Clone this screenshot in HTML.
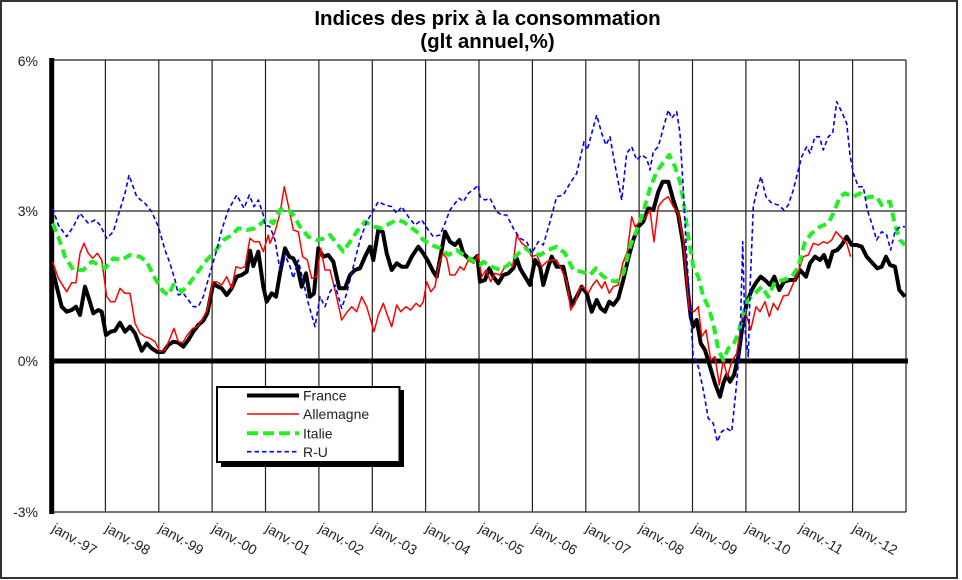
<!DOCTYPE html>
<html><head><meta charset="utf-8"><style>
html,body{margin:0;padding:0;background:#fff;}
svg{display:block;}
text{font-family:"Liberation Sans",Arial,sans-serif;}
</style></head><body>
<svg width="962" height="580" viewBox="0 0 962 580" xmlns="http://www.w3.org/2000/svg">
<rect x="0" y="0" width="962" height="580" fill="#fff"/>
<rect x="1" y="1" width="956" height="577" fill="none" stroke="#333" stroke-width="2"/>
<text x="487.5" y="25" font-size="20.5" font-weight="bold" text-anchor="middle" fill="#000">Indices des prix à la consommation</text>
<text x="487.5" y="48" font-size="20.5" font-weight="bold" text-anchor="middle" fill="#000">(glt annuel,%)</text>
<g stroke="#222" stroke-width="1.2" fill="none">
<line x1="52" y1="60" x2="906" y2="60"/>
<line x1="52" y1="211" x2="906" y2="211"/>
<line x1="52" y1="512" x2="906" y2="512"/>
<line x1="105.4" y1="60" x2="105.4" y2="512"/>
<line x1="158.8" y1="60" x2="158.8" y2="512"/>
<line x1="212.1" y1="60" x2="212.1" y2="512"/>
<line x1="265.5" y1="60" x2="265.5" y2="512"/>
<line x1="318.9" y1="60" x2="318.9" y2="512"/>
<line x1="372.3" y1="60" x2="372.3" y2="512"/>
<line x1="425.6" y1="60" x2="425.6" y2="512"/>
<line x1="479" y1="60" x2="479" y2="512"/>
<line x1="532.4" y1="60" x2="532.4" y2="512"/>
<line x1="585.8" y1="60" x2="585.8" y2="512"/>
<line x1="639.1" y1="60" x2="639.1" y2="512"/>
<line x1="692.5" y1="60" x2="692.5" y2="512"/>
<line x1="745.9" y1="60" x2="745.9" y2="512"/>
<line x1="799.3" y1="60" x2="799.3" y2="512"/>
<line x1="852.6" y1="60" x2="852.6" y2="512"/>
<line x1="906" y1="60" x2="906" y2="512"/>
</g>
<line x1="52" y1="361" x2="908" y2="361" stroke="#000" stroke-width="5"/>
<line x1="51.7" y1="58" x2="51.7" y2="514" stroke="#000" stroke-width="5"/>
<g font-size="14" fill="#222" text-anchor="end">
<text x="38" y="66">6%</text>
<text x="38" y="216">3%</text>
<text x="38" y="366">0%</text>
<text x="38" y="517">-3%</text>
</g>
<g font-size="14" fill="#222">
<text transform="translate(51,531) rotate(30)">janv.-97</text>
<text transform="translate(104.4,531) rotate(30)">janv.-98</text>
<text transform="translate(157.8,531) rotate(30)">janv.-99</text>
<text transform="translate(211.1,531) rotate(30)">janv.-00</text>
<text transform="translate(264.5,531) rotate(30)">janv.-01</text>
<text transform="translate(317.9,531) rotate(30)">janv.-02</text>
<text transform="translate(371.3,531) rotate(30)">janv.-03</text>
<text transform="translate(424.6,531) rotate(30)">janv.-04</text>
<text transform="translate(478,531) rotate(30)">janv.-05</text>
<text transform="translate(531.4,531) rotate(30)">janv.-06</text>
<text transform="translate(584.8,531) rotate(30)">janv.-07</text>
<text transform="translate(638.1,531) rotate(30)">janv.-08</text>
<text transform="translate(691.5,531) rotate(30)">janv.-09</text>
<text transform="translate(744.9,531) rotate(30)">janv.-10</text>
<text transform="translate(798.3,531) rotate(30)">janv.-11</text>
<text transform="translate(851.6,531) rotate(30)">janv.-12</text>
</g>
<g fill="none" stroke-linejoin="round">
<polyline stroke="#000" stroke-width="4" points="52.7,270 56.7,286.7 61.7,306.7 66.7,311.7 71.7,310 76,306.7 80,315 85,286.7 89.3,300 93.3,313.3 98.3,310 101.7,311.7 106,335 110.7,331.7 115,330.7 120,322.7 125,331.7 130,326.7 135,333.3 141.7,350.7 146.7,343.3 151.7,348.3 157.3,352 163.3,352 168.3,345 173.3,341.7 178.3,342.7 183.3,346.7 188.3,340 193.3,331.7 198.3,325 203.3,320.7 207.3,313.3 213.3,283.3 216.7,286 221.7,288.3 226.7,295 231.7,288.3 236.7,276.7 241.7,275 246.7,271.7 250,250.7 253.3,266 258.3,251.7 263.3,286.7 266.7,301.7 271.7,293.3 276,296.7 280,273.3 285,248.3 289.3,256.7 293.3,258.3 297.3,266.7 301.7,286.7 306,273.3 310,296.7 314,293.3 318.3,248.3 323.3,256.7 328.3,255 333.3,261.7 339.3,288.3 345,288.3 350,275 355,270 360,268.3 365,256.7 370,246.7 373.3,260 378.3,230 382.7,231.7 386.7,253.3 391.7,270 396.7,263.3 401.7,266.7 406.7,266.7 411.7,256.7 418.3,246.7 423.3,253.3 428.3,261.7 433.3,271.7 436.7,276.7 441.7,250 445,231.7 450,241.7 455,245 459.3,240 463.3,253.3 468.3,258.3 473.3,260 477.3,256 480,281.7 485,280 489.3,268.3 493.3,276.7 498.3,283.3 503.3,275 508.3,273.3 513.3,268.3 516.7,258.3 520,268.3 525,276.7 530,285 535,260 540,266.7 543.3,285 548.3,266.7 551.7,256.7 556.7,266.7 563.3,266.7 568.3,290 571.7,305 576.7,296.7 581.7,286.7 586.7,293.3 591.7,311.7 596.7,300 600.7,308.3 605,311.7 609.3,301.7 613.3,305 618.3,298.3 623.3,280 628.3,258.3 633.3,240 638.3,226.7 643.3,221.7 648.3,208.3 653.3,210 658.3,191.7 662.7,181.7 668.3,181.7 673.3,200 678.3,215 683.3,245 686.7,280 690.7,316.7 693.3,326.7 696.7,320 700.7,343.3 705,350 710,366.7 715,383.3 720,396.7 723.3,383.3 726.7,375 730,381.7 734,375 738.3,356.7 743.3,320 746.7,303.3 751.7,290 756.7,281.7 760.7,276.7 765,280 770,285 774.3,276.7 779.3,290 784,281.7 790,280 795,280 800,270 806,276.7 810,263.3 815,256.7 820,260 824,255 828.3,266.7 832.7,251.7 837.3,250 841.7,245 846.7,236.7 851.7,245 856.7,245 861.7,246.7 866.7,256.7 872.7,263.3 877.3,268.3 881.7,266.7 886,256.7 890,265 895,266.7 899.3,290 905,296.7"/>
<polyline stroke="#ff0000" stroke-width="1.5" points="52.7,261.7 58.3,278.3 66.7,291.7 71.7,282.7 76,282.7 80,253.3 84,243.3 88.3,253.3 92.7,258.3 97.3,253.3 101.7,260 106.7,296.7 110.7,301.7 115,301.7 120,288.3 125,293.3 130,293.3 135,323.3 140,333.3 145,336.7 150,338.3 155,341.7 160,351.7 165,350 169.3,340 174,328.3 178.3,341.7 182.7,342.7 187.3,335 192.7,328.3 197.3,326.7 202.7,318.3 207.3,310 212.7,281.7 216.7,281.7 221.7,285 226.7,276.7 231.7,288.3 236,266.7 240.7,268.3 245,266.7 250,238.3 254,241.7 259.3,241.7 263.3,251.7 268.3,235 270,243.3 275,231.7 280,213.3 284.3,186.7 289.3,210 293.3,230 298.3,231.7 302.7,256.7 307.3,260 311.7,278.3 316.7,276.7 320.7,248.3 325,270 330,270 335,290 341.7,320 347.3,311.7 351.7,306.7 356.7,311.7 361.7,296.7 366.7,306.7 374,331.7 378.3,315 383.3,303.3 387.3,315 391.7,326.7 396.7,305 400.7,311.7 406,306.7 410.7,310 416,303.3 420,306.7 423.3,301.7 426.7,281.7 430.7,291.7 435,286.7 438.3,266.7 442.7,253.3 446.7,258.3 450,275 455,275 460,266.7 464,270 468.3,260 473.3,263.3 478.3,255 481.7,276.7 486,270 490.7,281.7 495,273.3 500,275 505,266.7 510,263.3 512.7,266.7 516.7,235 521.7,243.3 526.7,246.7 531.7,256.7 536.7,255 541.7,266.7 546.7,261.7 551.7,260 556.7,260 561.7,270 566.7,281.7 570.7,310 575,303.3 579.3,288.3 583.3,286.7 588.3,293.3 592.7,285 596.7,280 601.7,288.3 605,281.7 609.3,293.3 613.3,286.7 618.3,285 622.7,263.3 627.3,251.7 631.7,216.7 635,226.7 640,221.7 645,218.3 650,210 654,241.7 658.3,206.7 663.3,200 668.3,196.7 673.3,206.7 678.3,213.3 683.3,240 686,275 689.3,310 694,311.7 698.3,306.7 701.7,336.7 706,330 710.7,360 715,356.7 719.3,385 723.3,360 727.3,376.7 731.7,361.7 736.7,353.3 741.7,320 746,313.3 750.7,330 756,306.7 760,311.7 765,301.7 769.3,316.7 773.3,303.3 777.7,310 783.3,296 788.3,295 793.3,283.3 798.3,271.7 803.3,256.7 808.3,255 813.3,243.3 818.3,245 823.3,241.7 827.3,243.3 831.7,240 836,231.7 840.7,236.7 846.7,243.3 850.7,256.7"/>
<polyline stroke="#22ee22" stroke-width="4" stroke-dasharray="9,5" points="52.7,223.3 58.3,236.7 65,256.7 73.3,270 83.3,270 91.7,261.7 100,265 105,268.3 113.3,258.3 121.7,260 130,255 140,256.7 146.7,261.7 155,278.3 163.3,291.7 168.3,295 173.3,285 181.7,291.7 188.3,285 196.7,273.3 206.7,260 215,251.7 223.3,240 231.7,235 238.3,228.3 246.7,230 255,228.3 263.3,221.7 266.7,218.3 273.3,223.3 280,210 286.7,208.3 293.3,215 300,226.7 308.3,236.7 316.7,240 325,238.3 330,235 336.7,243.3 343.3,251.7 350,241.7 356.7,231.7 365,221.7 375,226.7 381.7,228.3 390,223.3 396.7,220 403.3,221.7 410,226.7 416.7,231.7 423.3,240 431.7,245 440,248.3 448.3,255 456.7,250 463.3,255 471.7,260 480,265 483.3,261.7 491.7,266.7 500,270 508.3,265 516.7,255 525,248.3 533.3,253.3 540,255 548.3,250 556.7,246.7 565,253.3 573.3,270 581.7,271.7 590,275 596,268.3 601.7,275 608.3,280 616.7,281.7 623.3,273.3 630,246.7 636.7,230 643.3,211.7 650,188.3 656.7,171.7 662.7,163.3 669.3,155 675,166.7 680,182 683.3,200 688.3,236.7 693.3,266.7 698.3,276.7 703.3,296.7 708.3,306.7 713.3,323.3 718.3,350 723.3,360 728.3,348.3 733.3,345 738.3,333.3 743.3,313.3 748.3,300 755,293.3 761.7,286.7 768.3,296.7 775,281.7 783.3,280 791.7,276.7 798.3,266.7 805,241.7 811.7,233.3 820,226.7 828.3,223.3 833.3,213.3 840,196.7 845,193.3 853.3,196.7 860,193.3 865,198.3 870,196.7 876.7,196.7 881.7,205 886.7,201.7 890,201.7 895,225 900,240 905,245"/>
<polyline stroke="#0000ee" stroke-width="1.6" stroke-dasharray="4.5,3" points="52.7,208.3 58.3,225 66.7,236.7 73.3,226.7 80,213.3 88.3,223.3 95,220 100,225 106.7,238.3 113.3,231.7 118.3,215 125,193.3 129,175 136.7,196.7 145,203.3 151.7,211.7 158.3,226.7 165,250 170,263.3 175,280 178.3,295 183.3,293.3 188.3,300 193.3,306.7 198.3,306.7 203.3,296.7 210,273.3 216.7,250 221.7,230 228.3,210 236.7,195 244,208.3 249.3,195 254,206.7 258.3,200 263.3,215 265,225 270,226.7 275,240 280,270 285,255 290,266.7 293.3,278.3 298.3,260 303.3,281.7 308.3,303.3 315,326.7 320,296.7 325,306.7 330,291.7 335,285 341.7,308.3 346.7,293.3 353.3,266.7 360,240 366.7,221.7 371.7,213.3 378.3,201.7 385,205 391.7,206.7 396.7,213.3 401.7,206.7 408.3,216.7 415,225 421.7,220 428.3,230 433.3,236.7 440,235 445,223.3 450,210 455,203.3 459.3,198.3 463.3,201.7 468.3,193.3 475,188.3 478.3,185 480,196.7 485,200 490,198.3 496.7,211.7 501.7,215 506.7,215 513.3,228.3 520,238.3 526.7,241.7 531.7,253.3 538.3,241.7 543.3,245 550,221.7 556.7,196.7 563.3,195 570,183.3 576.7,173.3 584,141.7 587.3,150 591.7,133.3 596.7,115 601.7,133.3 606,145 610,136.7 615,165 621.7,200 626.7,153.3 631.7,146.7 636.7,160 641.7,155 646.7,158.3 650,170 653.3,151.7 658.3,146.7 663.3,128.3 668.3,110 671.7,118.3 676.7,111.7 680,133.3 683.3,190 686.7,256.7 690,306.7 693.3,356.7 698.3,366.7 703.3,390 708.3,418.3 713.3,423.3 717.3,441.7 721.7,431.7 726.7,428.3 731.7,431.7 736,390 740,343.3 742.7,241.7 745,330 748.3,356.7 750,290 753.3,206.7 757.3,188.3 761,176.7 766,196.7 771.7,203.3 778.3,205 784,210 788.3,205 793.3,190 798.3,170 801.7,156.7 806.7,146.7 810,153.3 815,136.7 819.3,136.7 823.3,150 828.3,136.7 832.7,133.3 836.7,101.7 841.7,111.7 846.7,123.3 850,155 853.3,173.3 858.3,186.7 863.3,186.7 867.3,210 871.7,223.3 876.7,240 881.7,231.7 886.7,235 890.7,250 895,231.7 900,226.7 905,226.7"/>
</g>
<rect x="221" y="390" width="183" height="77" fill="#000"/>
<rect x="217" y="387" width="182.5" height="75" fill="#fff" stroke="#000" stroke-width="2"/>
<line x1="247" y1="395.5" x2="299" y2="395.5" stroke="#000" stroke-width="4"/>
<line x1="247" y1="414" x2="299" y2="414" stroke="#ff0000" stroke-width="1.5"/>
<line x1="247" y1="433.3" x2="299" y2="433.3" stroke="#22ee22" stroke-width="4" stroke-dasharray="11,5"/>
<line x1="247" y1="451.7" x2="299" y2="451.7" stroke="#0000ee" stroke-width="1.6" stroke-dasharray="4.5,3"/>
<g font-size="14" fill="#222">
<text x="303" y="400.5">France</text>
<text x="303" y="419">Allemagne</text>
<text x="303" y="438.5">Italie</text>
<text x="303" y="457">R-U</text>
</g>
</svg>
</body></html>
